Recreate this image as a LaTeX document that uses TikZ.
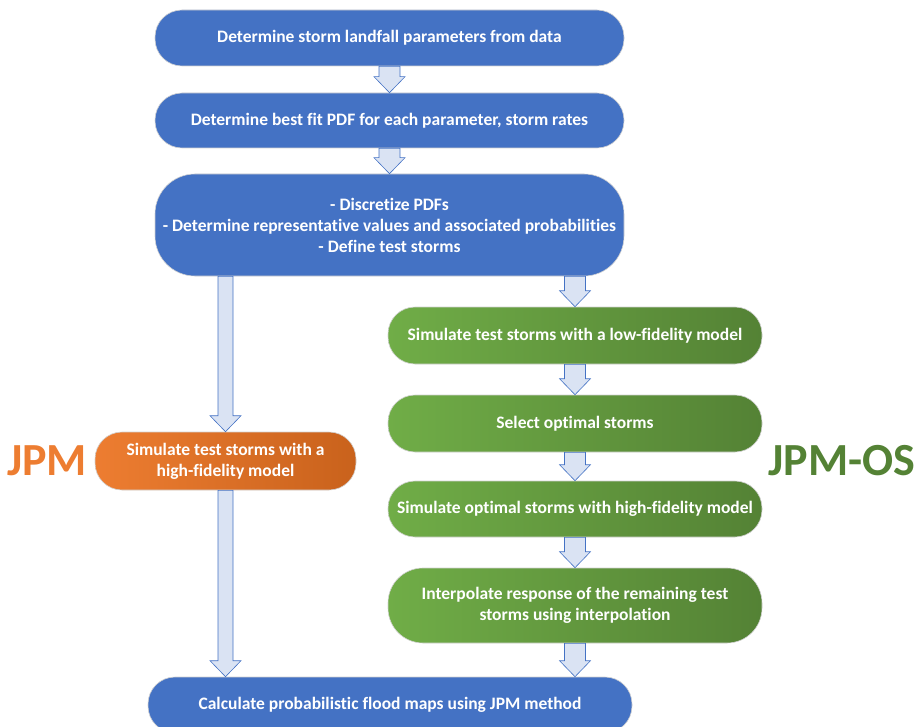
\documentclass[tikz,border=0pt]{standalone}
\usepackage{fontspec}
\setmainfont{Carlito}[Ligatures={NoCommon}]
\usetikzlibrary{calc}
\definecolor{boxblue}{HTML}{4472C4}
\definecolor{arrowfill}{HTML}{DAE3F3}
\definecolor{jpmorange}{HTML}{ED7D31}
\definecolor{jpmdark}{HTML}{C9621C}
\definecolor{osgreen}{HTML}{70AD47}
\definecolor{osdark}{HTML}{548235}
\definecolor{oslabel}{HTML}{548235}
% block arrow: #1 half shaft width, #2 start, #3 tip
\newcommand{\fatarrow}[3]{%
  \draw[arrowline] let \p1=#2, \p2=#3 in
    (\x1-#1,\y1) -- (\x1+#1,\y1) -- (\x1+#1,\y2+16pt) -- (\x1+15.5pt,\y2+16pt)
    -- (\x1,\y2) -- (\x1-15.5pt,\y2+16pt) -- (\x1-#1,\y2+16pt) -- cycle;}

\begin{document}
\begin{tikzpicture}[x=1pt,y=-1pt,
  stage/.style={draw=gray!35, line width=0.6pt, rounded corners=27pt,
                text=white, font=\fontsize{17.5}{21}\selectfont\bfseries,
                align=center, inner sep=0pt},
  bluebox/.style={stage, fill=boxblue},
  greenbox/.style={stage, left color=osgreen, right color=osdark,
                   minimum width=374pt},
  orangebox/.style={stage, left color=jpmorange, right color=jpmdark},
  arrowline/.style={fill=arrowfill, draw=boxblue, line width=0.6pt},
  method/.style={font=\fontsize{46}{46}\selectfont\bfseries}]
\useasboundingbox (0,0) rectangle (920,727);
% main chain
\node[bluebox, minimum width=469pt, minimum height=56pt] (data) at (389.5,38) {Determine storm landfall parameters from data};
\node[bluebox, minimum width=469pt, minimum height=55pt] (pdf) at (389.5,120.5) {Determine best fit PDF for each parameter, storm rates};
\node[bluebox, minimum width=469pt, minimum height=102pt, rounded corners=40pt] (disc) at (389.5,225)
  {- Discretize PDFs\\- Determine representative values and associated probabilities\\- Define test storms};
% JPM branch
\node[orangebox, minimum width=261pt, minimum height=58pt] (jpm) at (225.5,461) {Simulate test storms with a\\high-fidelity model};
\node[method, text=jpmorange] (jpmlabel) at (47,461) {JPM};
% JPM-OS branch
\node[greenbox, minimum height=57pt] (low) at (575,335.5) {Simulate test storms with a low-fidelity model};
\node[greenbox, minimum height=57pt] (select) at (575,423.5) {Select optimal storms};
\node[greenbox, minimum height=56pt] (high) at (575,509) {Simulate optimal storms with high-fidelity model};
\node[greenbox, minimum height=75pt, rounded corners=35pt] (interp) at (575,605.5) {Interpolate response of the remaining test\\storms using interpolation};
\node[method, text=oslabel] (oslabel) at (842,461) {JPM-OS};
% result
\node[bluebox, minimum width=484pt, minimum height=56pt] (flood) at (390,705) {Calculate probabilistic flood maps using JPM method};
% arrows
\fatarrow{10.5pt}{(data.south)}{(pdf.north)}
\fatarrow{10.5pt}{(pdf.south)}{(disc.north)}
\fatarrow{7.5pt}{(jpm.north |- disc.south)}{(jpm.north)}
\fatarrow{7.5pt}{(jpm.south)}{(jpm.south |- flood.north)}
\fatarrow{10.5pt}{(low.north |- disc.south)}{(low.north)}
\fatarrow{10.5pt}{(low.south)}{(select.north)}
\fatarrow{10.5pt}{(select.south)}{(high.north)}
\fatarrow{10.5pt}{(high.south)}{(interp.north)}
\fatarrow{10.5pt}{(interp.south)}{(interp.south |- flood.north)}
\end{tikzpicture}
\end{document}
